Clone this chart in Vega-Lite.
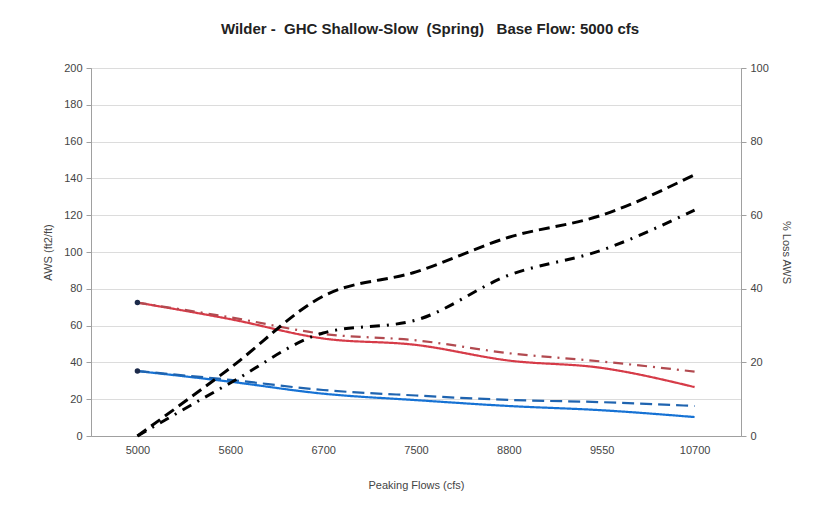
{
  "$schema": "https://vega.github.io/schema/vega-lite/v6.json",
  "autosize": {"type": "none"},
  "width": 650,
  "height": 368,
  "padding": {"left": 91, "top": 68, "right": 77, "bottom": 70},
  "background": "white",
  "title": {
    "text": "Wilder -\u00a0\u00a0GHC Shallow-Slow\u00a0\u00a0(Spring)\u00a0\u00a0\u00a0Base Flow: 5000 cfs",
    "font": "Liberation Sans",
    "fontSize": 15,
    "fontWeight": "bold",
    "color": "#222222",
    "anchor": "middle",
    "dx": 14,
    "offset": 25
  },
  "config": {
    "view": {"stroke": "#a0a0a0", "strokeWidth": 1},
    "axis": {
      "labelFont": "Liberation Sans",
      "labelFontSize": 11,
      "labelColor": "#444444",
      "labelOverlap": false,
      "titleFont": "Liberation Sans",
      "titleFontSize": 11,
      "titleFontWeight": "normal",
      "titleColor": "#444444",
      "domainColor": "#a0a0a0",
      "tickColor": "#a0a0a0"
    }
  },
  "data": {
    "values": [
      {"flow": "5000", "series": "S1", "aws": 72.5},
      {"flow": "5600", "series": "S1", "aws": 63.5},
      {"flow": "6700", "series": "S1", "aws": 53},
      {"flow": "7500", "series": "S1", "aws": 49.5},
      {"flow": "8800", "series": "S1", "aws": 41},
      {"flow": "9550", "series": "S1", "aws": 37},
      {"flow": "10700", "series": "S1", "aws": 26.6},
      {"flow": "5000", "series": "S2", "aws": 72.5},
      {"flow": "5600", "series": "S2", "aws": 64.5},
      {"flow": "6700", "series": "S2", "aws": 55.5},
      {"flow": "7500", "series": "S2", "aws": 52},
      {"flow": "8800", "series": "S2", "aws": 45},
      {"flow": "9550", "series": "S2", "aws": 40.5},
      {"flow": "10700", "series": "S2", "aws": 35},
      {"flow": "5000", "series": "S3", "aws": 35.3},
      {"flow": "5600", "series": "S3", "aws": 29.5},
      {"flow": "6700", "series": "S3", "aws": 23},
      {"flow": "7500", "series": "S3", "aws": 19.5},
      {"flow": "8800", "series": "S3", "aws": 16.3},
      {"flow": "9550", "series": "S3", "aws": 14},
      {"flow": "10700", "series": "S3", "aws": 10.3},
      {"flow": "5000", "series": "S4", "aws": 35.3},
      {"flow": "5600", "series": "S4", "aws": 30.5},
      {"flow": "6700", "series": "S4", "aws": 25},
      {"flow": "7500", "series": "S4", "aws": 22},
      {"flow": "8800", "series": "S4", "aws": 19.6},
      {"flow": "9550", "series": "S4", "aws": 18.4},
      {"flow": "10700", "series": "S4", "aws": 16.3},
      {"flow": "5000", "series": "L1", "loss": 0},
      {"flow": "5600", "series": "L1", "loss": 18.5},
      {"flow": "6700", "series": "L1", "loss": 38},
      {"flow": "7500", "series": "L1", "loss": 44.6},
      {"flow": "8800", "series": "L1", "loss": 54},
      {"flow": "9550", "series": "L1", "loss": 60},
      {"flow": "10700", "series": "L1", "loss": 71},
      {"flow": "5000", "series": "L2", "loss": 0},
      {"flow": "5600", "series": "L2", "loss": 14.4},
      {"flow": "6700", "series": "L2", "loss": 28},
      {"flow": "7500", "series": "L2", "loss": 31.5},
      {"flow": "8800", "series": "L2", "loss": 43.7},
      {"flow": "9550", "series": "L2", "loss": 50.5},
      {"flow": "10700", "series": "L2", "loss": 61.4}
    ]
  },
  "encoding": {
    "x": {
      "field": "flow",
      "type": "ordinal",
      "sort": ["5000", "5600", "6700", "7500", "8800", "9550", "10700"],
      "scale": {"type": "point", "padding": 0.5},
      "axis": {"title": "Peaking Flows (cfs)", "labelAngle": 0, "ticks": false, "labelPadding": 8, "titlePadding": 24}
    }
  },
  "layer": [
    {
      "transform": [{"filter": "datum.aws != null"}],
      "encoding": {
        "y": {
          "field": "aws",
          "type": "quantitative",
          "scale": {"domain": [0, 200], "nice": false},
          "axis": {"title": "AWS (ft2/ft)", "values": [0, 20, 40, 60, 80, 100, 120, 140, 160, 180, 200], "labelOverlap": false, "gridColor": "#dcdcdc", "tickSize": 5, "titlePadding": 10, "labelPadding": 4}
        }
      },
      "layer": [
        {
          "mark": {"type": "line", "strokeWidth": 2.2, "interpolate": "monotone"},
          "encoding": {
            "color": {
              "field": "series",
              "type": "nominal",
              "scale": {"domain": ["S1", "S2", "S3", "S4"], "range": ["#d63b48", "#b24a50", "#1672d4", "#1f64b0"]},
              "legend": null
            },
            "strokeDash": {
              "field": "series",
              "type": "nominal",
              "scale": {"domain": ["S1", "S2", "S3", "S4"], "range": [[1, 0], [10, 6, 2, 6], [1, 0], [12, 6]]},
              "legend": null
            }
          }
        },
        {
          "transform": [{"filter": "datum.flow == '5000' && (datum.series == 'S1' || datum.series == 'S3')"}],
          "mark": {"type": "point", "filled": true, "size": 30, "color": "#1c2a4a", "opacity": 1},
          "encoding": {}
        }
      ]
    },
    {
      "transform": [{"filter": "datum.loss != null"}],
      "mark": {"type": "line", "strokeWidth": 3, "color": "#000000", "interpolate": "monotone"},
      "encoding": {
        "y": {
          "field": "loss",
          "type": "quantitative",
          "scale": {"domain": [0, 100], "nice": false},
          "axis": {"title": "% Loss AWS", "orient": "right", "values": [0, 20, 40, 60, 80, 100], "grid": false, "tickSize": 5, "titlePadding": 12, "labelPadding": 4}
        },
        "strokeDash": {
          "field": "series",
          "type": "nominal",
          "scale": {"domain": ["L1", "L2"], "range": [[11, 6], [10, 7, 2, 7]]},
          "legend": null
        }
      }
    }
  ],
  "resolve": {"scale": {"y": "independent", "strokeDash": "independent"}}
}
